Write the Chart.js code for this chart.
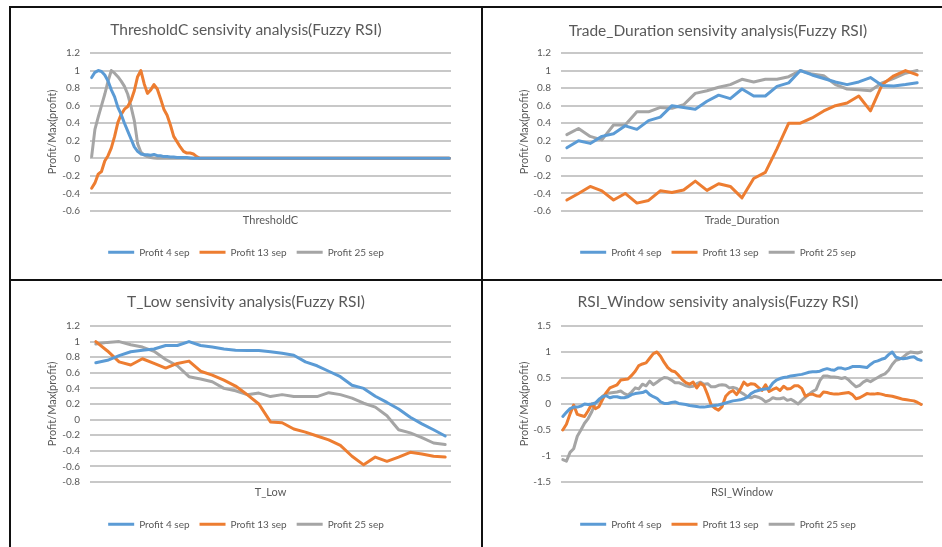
<!DOCTYPE html>
<html>
<head>
<meta charset="utf-8">
<script src="https://cdn.jsdelivr.net/npm/chart.js@4.4.1/dist/chart.umd.min.js"></script>
<style>
    body { margin: 0; background: #fff; }
    #page { position: relative; width: 942px; height: 547px; overflow: hidden; background: #fff; }
    #page canvas { position: absolute; }
    .rule { position: absolute; background: #111; }
</style>
</head>
<body>
<div id="page">
    <div class="rule" style="left:9px; top:6px; width:933px; height:2px;"></div>
    <div class="rule" style="left:9px; top:6px; width:2px; height:541px;"></div>
    <div class="rule" style="left:481px; top:6px; width:2px; height:541px;"></div>
    <div class="rule" style="left:9px; top:279px; width:933px; height:2px;"></div>
    <canvas id="chart-threshold" width="470" height="271" style="left:11px; top:8px;"></canvas>
    <canvas id="chart-duration" width="470" height="271" style="left:483px; top:8px;"></canvas>
    <canvas id="chart-tlow" width="470" height="271" style="left:11px; top:281px;"></canvas>
    <canvas id="chart-window" width="470" height="271" style="left:483px; top:281px;"></canvas>
</div>
<script>
// Series names (legend)
const seriesNames = ['Profit 4 sep', 'Profit 13 sep', 'Profit 25 sep'];
const seriesColors = ['#5B9BD5', '#ED7D31', '#A5A5A5'];

// --- ThresholdC sensitivity (110 steps, flat at 0 after the first third) ---
const thresholdProfit4 = [
    0.92, 0.98, 1.0, 0.99, 0.95, 0.88, 0.78, 0.70, 0.58, 0.50,
    0.40, 0.31, 0.22, 0.13, 0.08, 0.05, 0.04, 0.04, 0.035, 0.045,
    0.03, 0.03, 0.02, 0.02, 0.015, 0.015, 0.01, 0.01, 0.01, 0.01,
    0.005, 0, 0, 0, 0, 0, 0, 0, 0, 0,
    0, 0, 0, 0, 0, 0, 0, 0, 0, 0,
    0, 0, 0, 0, 0, 0, 0, 0, 0, 0,
    0, 0, 0, 0, 0, 0, 0, 0, 0, 0,
    0, 0, 0, 0, 0, 0, 0, 0, 0, 0,
    0, 0, 0, 0, 0, 0, 0, 0, 0, 0,
    0, 0, 0, 0, 0, 0, 0, 0, 0, 0,
    0, 0, 0, 0, 0, 0, 0, 0, 0, 0
];
const thresholdProfit13 = [
    -0.34, -0.28, -0.18, -0.15, -0.03, 0.03, 0.12, 0.25, 0.41, 0.50,
    0.56, 0.59, 0.66, 0.77, 0.93, 1.0, 0.85, 0.74, 0.78, 0.84,
    0.79, 0.68, 0.56, 0.49, 0.38, 0.25, 0.19, 0.13, 0.08, 0.06,
    0.06, 0.05, 0.02, 0, 0, 0, 0, 0, 0, 0,
    0, 0, 0, 0, 0, 0, 0, 0, 0, 0,
    0, 0, 0, 0, 0, 0, 0, 0, 0, 0,
    0, 0, 0, 0, 0, 0, 0, 0, 0, 0,
    0, 0, 0, 0, 0, 0, 0, 0, 0, 0,
    0, 0, 0, 0, 0, 0, 0, 0, 0, 0,
    0, 0, 0, 0, 0, 0, 0, 0, 0, 0,
    0, 0, 0, 0, 0, 0, 0, 0, 0, 0
];
const thresholdProfit25 = [
    0.02, 0.33, 0.47, 0.60, 0.73, 0.88, 1.0, 0.97, 0.93, 0.88,
    0.82, 0.73, 0.59, 0.43, 0.17, 0.07, 0.04, 0.02, 0.01, 0.005,
    0, 0, 0, 0, 0, 0, 0, 0, 0, 0,
    0, 0, 0, 0, 0, 0, 0, 0, 0, 0,
    0, 0, 0, 0, 0, 0, 0, 0, 0, 0,
    0, 0, 0, 0, 0, 0, 0, 0, 0, 0,
    0, 0, 0, 0, 0, 0, 0, 0, 0, 0,
    0, 0, 0, 0, 0, 0, 0, 0, 0, 0,
    0, 0, 0, 0, 0, 0, 0, 0, 0, 0,
    0, 0, 0, 0, 0, 0, 0, 0, 0, 0,
    0, 0, 0, 0, 0, 0, 0, 0, 0, 0
];
const thresholdTicks = [-0.6, -0.4, -0.2, 0, 0.2, 0.4, 0.6, 0.8, 1, 1.2];

// --- Trade_Duration sensitivity (31 steps) ---
const durationProfit4 = [
    0.12, 0.20, 0.17, 0.25, 0.28, 0.37, 0.33, 0.43, 0.47, 0.60,
    0.58, 0.56, 0.65, 0.72, 0.68, 0.79, 0.71, 0.71, 0.82, 0.86,
    1.0, 0.95, 0.91, 0.87, 0.84, 0.87, 0.92, 0.83, 0.825, 0.84, 0.86
];
const durationProfit13 = [
    -0.475, -0.40, -0.32, -0.37, -0.475, -0.40, -0.51, -0.48, -0.37, -0.39,
    -0.36, -0.26, -0.365, -0.29, -0.32, -0.45, -0.23, -0.16, 0.11, 0.40,
    0.40, 0.46, 0.54, 0.60, 0.63, 0.71, 0.54, 0.84, 0.94, 1.0, 0.95
];
const durationProfit25 = [
    0.27, 0.34, 0.25, 0.21, 0.38, 0.38, 0.53, 0.53, 0.58, 0.57,
    0.61, 0.74, 0.77, 0.81, 0.84, 0.90, 0.87, 0.90, 0.90, 0.93,
    1.0, 0.96, 0.94, 0.84, 0.79, 0.78, 0.77, 0.86, 0.91, 0.97, 1.0
];
const durationTicks = [-0.6, -0.4, -0.2, 0, 0.2, 0.4, 0.6, 0.8, 1, 1.2];

// --- T_Low sensitivity (31 steps) ---
const tlowProfit4 = [
    0.73, 0.76, 0.82, 0.87, 0.89, 0.905, 0.95, 0.95, 1.0, 0.95,
    0.93, 0.905, 0.89, 0.885, 0.885, 0.87, 0.85, 0.825, 0.74, 0.69,
    0.62, 0.55, 0.44, 0.40, 0.30, 0.22, 0.135, 0.03, -0.055, -0.13, -0.21
];
const tlowProfit13 = [
    1.0, 0.88, 0.74, 0.70, 0.78, 0.72, 0.66, 0.72, 0.75, 0.62,
    0.57, 0.505, 0.43, 0.32, 0.20, -0.03, -0.04, -0.12, -0.16, -0.21,
    -0.26, -0.33, -0.47, -0.58, -0.48, -0.535, -0.48, -0.42, -0.44, -0.47, -0.48
];
const tlowProfit25 = [
    0.97, 0.99, 1.0, 0.96, 0.93, 0.875, 0.77, 0.69, 0.55, 0.52,
    0.485, 0.40, 0.37, 0.32, 0.34, 0.295, 0.32, 0.295, 0.295, 0.295,
    0.345, 0.32, 0.275, 0.21, 0.16, 0.05, -0.13, -0.17, -0.23, -0.30, -0.32
];
const tlowTicks = [-0.8, -0.6, -0.4, -0.2, 0, 0.2, 0.4, 0.6, 0.8, 1, 1.2];

// --- RSI_Window sensitivity (100 steps) ---
const windowProfit4 = [
    -0.24, -0.16, -0.09, -0.06, -0.06, -0.04, 0.0, -0.01, 0.0, 0.02,
    0.09, 0.14, 0.16, 0.12, 0.14, 0.14, 0.12, 0.12, 0.14, 0.18,
    0.20, 0.21, 0.22, 0.25, 0.18, 0.14, 0.11, 0.04, 0.01, 0.01,
    0.03, 0.04, 0.01, 0.0, -0.01, -0.03, -0.04, -0.05, -0.06, -0.06,
    -0.05, -0.04, -0.03, -0.02, 0.0, 0.02, 0.04, 0.06, 0.07, 0.08,
    0.10, 0.13, 0.20, 0.24, 0.26, 0.28, 0.29, 0.30, 0.40, 0.46,
    0.49, 0.51, 0.52, 0.54, 0.55, 0.56, 0.57, 0.59, 0.61, 0.62,
    0.62, 0.63, 0.66, 0.68, 0.66, 0.65, 0.69, 0.69, 0.67, 0.69,
    0.72, 0.72, 0.72, 0.71, 0.70, 0.76, 0.81, 0.83, 0.86, 0.88,
    0.95, 1.0, 0.90, 0.88, 0.87, 0.88, 0.90, 0.91, 0.86, 0.84
];
const windowProfit13 = [
    -0.50, -0.39, -0.19, -0.02, -0.20, -0.22, -0.24, -0.13, 0.0, -0.09,
    -0.05, 0.09, 0.22, 0.31, 0.34, 0.37, 0.46, 0.47, 0.48, 0.55,
    0.63, 0.74, 0.77, 0.79, 0.88, 0.97, 1.0, 0.92, 0.80, 0.70,
    0.64, 0.62, 0.55, 0.47, 0.41, 0.38, 0.42, 0.31, 0.40, 0.35,
    0.18, -0.02, -0.08, -0.12, -0.05, 0.15, 0.22, 0.26, 0.18, 0.28,
    0.42, 0.36, 0.39, 0.38, 0.32, 0.26, 0.37, 0.24, 0.28, 0.31,
    0.26, 0.34, 0.29, 0.30, 0.35, 0.35, 0.30, 0.15, 0.18, 0.19,
    0.16, 0.15, 0.23, 0.22, 0.20, 0.19, 0.19, 0.20, 0.21, 0.22,
    0.18, 0.10, 0.12, 0.16, 0.20, 0.19, 0.19, 0.20, 0.19, 0.17,
    0.16, 0.15, 0.13, 0.11, 0.09, 0.08, 0.07, 0.06, 0.03, -0.01
];
const windowProfit25 = [
    -1.07, -1.10, -0.93, -0.86, -0.62, -0.50, -0.37, -0.28, -0.15, 0.02,
    0.06, 0.15, 0.20, 0.21, 0.22, 0.23, 0.25, 0.20, 0.17, 0.23,
    0.31, 0.29, 0.38, 0.35, 0.44, 0.37, 0.42, 0.47, 0.51, 0.50,
    0.46, 0.41, 0.41, 0.38, 0.35, 0.33, 0.34, 0.39, 0.42, 0.38,
    0.39, 0.33, 0.33, 0.36, 0.37, 0.36, 0.31, 0.32, 0.30, 0.23,
    0.19, 0.14, 0.12, 0.15, 0.13, 0.10, 0.04, 0.07, 0.12, 0.10,
    0.10, 0.12, 0.07, 0.09, 0.05, 0.0, 0.07, 0.13, 0.19, 0.24,
    0.28, 0.45, 0.54, 0.54, 0.52, 0.52, 0.51, 0.49, 0.51, 0.46,
    0.39, 0.33, 0.36, 0.42, 0.46, 0.43, 0.47, 0.51, 0.55, 0.58,
    0.65, 0.76, 0.84, 0.86, 0.90, 0.96, 1.0, 0.99, 0.98, 1.0
];
const windowTicks = [-1.5, -1, -0.5, 0, 0.5, 1, 1.5];

// Styling shared by the four panels
const FONT = 'Lato, "Open Sans", sans-serif';
const TEXT = '#595959';
const GRID = '#c8c8c8';

// Build one Excel-like line chart; box = plot area inside the canvas
function makeChart(canvasId, title, xTitle, series, ticks, box) {
    const labels = series[0].map((_, i) => i + 1);
    const canvas = document.getElementById(canvasId);
    const W = canvas.width, H = canvas.height;

    const titleSize = 15.5, titleLine = titleSize * 1.2;
    const legendSize = 10, legendPad = 10;
    const legendTop = box.legendY - legendPad - legendSize / 2;
    const xAxisHeight = legendTop - box.bottom;
    const axisLine = 11 * 1.2;

    new Chart(canvas.getContext('2d'), {
        type: 'line',
        data: {
            labels: labels,
            datasets: series.map((values, k) => ({
                label: seriesNames[k],
                data: values,
                borderColor: seriesColors[k],
                backgroundColor: seriesColors[k],
                borderWidth: 3,
                pointRadius: 0,
                tension: 0,
                borderJoinStyle: 'round',
                borderCapStyle: 'round'
            }))
        },
        options: {
            responsive: false,
            animation: false,
            layout: { padding: { left: 0, right: 0, top: 0, bottom: H - legendTop - (legendSize + legendPad + 10) } },
            plugins: {
                title: {
                    display: true,
                    text: title,
                    color: TEXT,
                    font: { family: FONT, size: titleSize, weight: 'normal' },
                    padding: { top: box.titleY - titleLine / 2, bottom: box.top - box.titleY - titleLine / 2 }
                },
                legend: {
                    position: 'bottom',
                    labels: {
                        color: TEXT,
                        font: { family: FONT, size: legendSize },
                        boxWidth: 26,
                        boxHeight: 3,
                        padding: legendPad,
                        generateLabels: chart => Chart.defaults.plugins.legend.labels.generateLabels(chart)
                            .map(item => ({ ...item, lineWidth: 0 }))
                    }
                },
                tooltip: { enabled: false }
            },
            scales: {
                x: {
                    offset: true,
                    grid: { display: false },
                    border: { display: false },
                    ticks: { display: false },
                    title: {
                        display: true,
                        text: xTitle,
                        color: TEXT,
                        font: { family: FONT, size: 11 },
                        padding: { top: 0, bottom: box.bottom + xAxisHeight - box.xTitleY - axisLine / 2 }
                    },
                    afterFit: scale => { scale.height = xAxisHeight; }
                },
                y: {
                    min: ticks[0],
                    max: ticks[ticks.length - 1],
                    afterBuildTicks: scale => { scale.ticks = ticks.map(v => ({ value: v })); },
                    grid: { color: GRID, lineWidth: 2, drawTicks: false },
                    border: { display: false },
                    ticks: {
                        color: TEXT,
                        font: { family: FONT, size: 10 },
                        padding: 10,
                        callback: v => String(v)
                    },
                    title: {
                        display: true,
                        text: 'Profit/Max(profit)',
                        color: TEXT,
                        font: { family: FONT, size: 11 },
                        padding: { top: box.yTitleX - axisLine / 2, bottom: 0 }
                    },
                    afterFit: scale => { scale.width = box.left; }
                },
                // empty right-hand margin so title and legend centre on the whole panel
                margin: {
                    type: 'linear',
                    position: 'right',
                    grid: { display: false },
                    border: { display: false },
                    ticks: { display: false },
                    afterFit: scale => { scale.width = W - box.right; }
                }
            }
        }
    });
}

document.addEventListener('DOMContentLoaded', () => {
    makeChart('chart-threshold', 'ThresholdC sensivity analysis(Fuzzy RSI)', 'ThresholdC',
        [thresholdProfit4, thresholdProfit13, thresholdProfit25], thresholdTicks,
        { left: 79, right: 440, top: 45, bottom: 203, titleY: 22, xTitleY: 212.5, legendY: 244.3, yTitleX: 41.5 });

    makeChart('chart-duration', 'Trade_Duration sensivity analysis(Fuzzy RSI)', 'Trade_Duration',
        [durationProfit4, durationProfit13, durationProfit25], durationTicks,
        { left: 78, right: 440, top: 45, bottom: 203, titleY: 22.7, xTitleY: 212, legendY: 244.3, yTitleX: 41 });

    makeChart('chart-tlow', 'T_Low sensivity analysis(Fuzzy RSI)', 'T_Low',
        [tlowProfit4, tlowProfit13, tlowProfit25], tlowTicks,
        { left: 79, right: 440, top: 45, bottom: 201, titleY: 20.7, xTitleY: 211.5, legendY: 243.3, yTitleX: 41.5 });

    makeChart('chart-window', 'RSI_Window sensivity analysis(Fuzzy RSI)', 'RSI_Window',
        [windowProfit4, windowProfit13, windowProfit25], windowTicks,
        { left: 78, right: 440, top: 45, bottom: 201, titleY: 20.7, xTitleY: 211.8, legendY: 243.3, yTitleX: 41 });
});
</script>
</body>
</html>
